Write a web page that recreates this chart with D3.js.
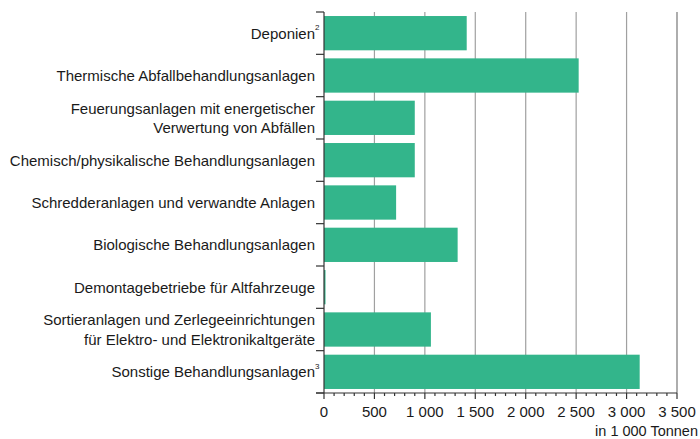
<!DOCTYPE html>
<html lang="de">
<head>
  <meta charset="UTF-8">
  <title>Abfallentsorgungsanlagen</title>
  <style>
    body { margin: 0; background: #fff; }
    text { font-family: "Liberation Sans", Arial, sans-serif; fill: #1a1a1a; }
  </style>
</head>
<body>
  <script src="https://d3js.org/d3.v7.min.js"></script>
  <script>
    const categories = [
      ["Deponien"],
      ["Thermische Abfallbehandlungsanlagen"],
      ["Feuerungsanlagen mit energetischer", "Verwertung von Abfällen"],
      ["Chemisch/physikalische Behandlungsanlagen"],
      ["Schredderanlagen und verwandte Anlagen"],
      ["Biologische Behandlungsanlagen"],
      ["Demontagebetriebe für Altfahrzeuge"],
      ["Sortieranlagen und Zerlegeeinrichtungen", "für Elektro- und Elektronikaltgeräte"],
      ["Sonstige Behandlungsanlagen"]
    ];
    const footnotes = ["2", "", "", "", "", "", "", "", "3"];
    const values = [1415, 2525, 900, 900, 715, 1325, 15, 1060, 3130];
    const xTicks = [0, 500, 1000, 1500, 2000, 2500, 3000, 3500];
    const unitLabel = "in 1 000 Tonnen";

    const width = 700, height = 439;
    const margin = { top: 12, right: 23, bottom: 46, left: 324 };

    const svg = d3.select('body').append('svg')
      .attr('width', width)
      .attr('height', height);

    const x = d3.scaleLinear()
      .domain([0, 3500])
      .range([margin.left, width - margin.right]);

    const y = d3.scaleBand()
      .domain(d3.range(categories.length))
      .range([margin.top, height - margin.bottom])
      .paddingInner(0.19)
      .paddingOuter(0.095);

    const bottom = height - margin.bottom;

    // gridlines
    svg.append('g')
      .selectAll('line')
      .data(xTicks.slice(1))
      .join('line')
      .attr('x1', d => x(d)).attr('x2', d => x(d))
      .attr('y1', margin.top).attr('y2', bottom)
      .attr('stroke', d => d === 3500 ? '#777' : '#a0a0a0')
      .attr('stroke-width', 1.2);

    // bars
    svg.append('g')
      .selectAll('rect')
      .data(values)
      .join('rect')
      .attr('x', x(0))
      .attr('y', (d, i) => y(i))
      .attr('width', d => x(d) - x(0))
      .attr('height', y.bandwidth())
      .attr('fill', '#33b58b');

    // y axis line and category separator ticks
    const step = y.step();
    const yAxis = svg.append('g').attr('stroke', '#333').attr('stroke-width', 1.2);
    yAxis.append('line')
      .attr('x1', x(0)).attr('x2', x(0))
      .attr('y1', margin.top).attr('y2', bottom);
    yAxis.selectAll('line.sep')
      .data(d3.range(categories.length + 1))
      .join('line')
      .attr('class', 'sep')
      .attr('x1', x(0) - 8).attr('x2', x(0))
      .attr('y1', i => margin.top + i * step)
      .attr('y2', i => margin.top + i * step);

    // x axis
    const xAxis = svg.append('g').attr('stroke', '#333').attr('stroke-width', 1.2);
    xAxis.append('line')
      .attr('x1', x(0) - 8).attr('x2', x(3500))
      .attr('y1', bottom).attr('y2', bottom);
    xAxis.selectAll('line.minor')
      .data(d3.range(0, 3501, 100))
      .join('line')
      .attr('class', 'minor')
      .attr('x1', d => x(d)).attr('x2', d => x(d))
      .attr('y1', bottom)
      .attr('y2', d => bottom + (d % 500 === 0 ? 6 : 3));

    svg.append('g')
      .selectAll('text')
      .data(xTicks)
      .join('text')
      .attr('x', d => x(d))
      .attr('y', bottom + 24)
      .attr('text-anchor', 'middle')
      .style('font-size', '15px')
      .text(d => d3.format(',')(d).replace(/,/g, ' '));

    svg.append('text')
      .attr('x', 698)
      .attr('y', bottom + 43)
      .attr('text-anchor', 'end')
      .style('font-size', '14.5px')
      .text(unitLabel);

    // category labels
    const labels = svg.append('g')
      .selectAll('text')
      .data(categories)
      .join('text')
      .attr('text-anchor', 'end')
      .style('font-size', '15px')
      .attr('transform', (d, i) => `translate(${x(0) - 9},${y(i) + y.bandwidth() / 2})`);

    labels.each(function(lines, i) {
      const t = d3.select(this);
      const lh = 19.5;
      const y0 = -(lines.length - 1) * lh / 2 + 5.5;
      lines.forEach((ln, j) => {
        t.append('tspan')
          .attr('x', 0)
          .attr('y', y0 + j * lh)
          .text(ln);
      });
    });

    // superscripts
    svg.append('g')
      .selectAll('text')
      .data(footnotes.map((f, i) => ({ f, i })).filter(d => d.f))
      .join('text')
      .attr('x', x(0) - 9)
      .attr('y', d => y(d.i) + y.bandwidth() / 2 - 3)
      .style('font-size', '8px')
      .text(d => d.f);
  </script>
</body>
</html>
